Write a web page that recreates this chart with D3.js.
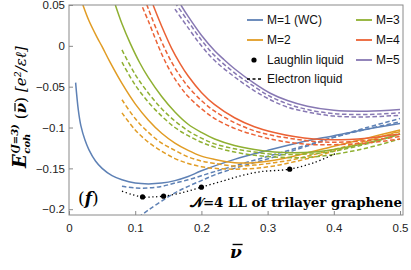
<!DOCTYPE html>
<html>
<head>
<meta charset="utf-8">
<script src="https://cdn.jsdelivr.net/npm/d3@7"></script>
<style>
  body { margin: 0; background: #fff; }
  svg { display: block; }
  .tick text { font-family: "Liberation Sans", Arial, sans-serif; font-size: 11.5px; fill: #222; }
</style>
</head>
<body>
<svg width="411" height="270"></svg>
<script>
// ---- data ----
// M=1 (Wigner crystal)
const nu1  = [0.010,0.014,0.018,0.024,0.030,0.040,0.050,0.065,0.080,0.10,0.12,0.14,0.16,0.18,0.20,0.25,0.30,0.35,0.40,0.45,0.50];
const e1   = [-0.045,-0.078,-0.098,-0.115,-0.127,-0.141,-0.150,-0.159,-0.164,-0.168,-0.169,-0.168,-0.165,-0.160,-0.153,-0.139,-0.128,-0.118,-0.110,-0.102,-0.095];
const nu1a = [0.08,0.10,0.12,0.14,0.16,0.18,0.20,0.22,0.25,0.28,0.31,0.34,0.37,0.40,0.45,0.50];
const e1a  = [-0.172,-0.174,-0.174,-0.172,-0.168,-0.164,-0.159,-0.154,-0.147,-0.140,-0.133,-0.126,-0.119,-0.112,-0.102,-0.093];
const nu1b = [0.105,0.12,0.14,0.16,0.18,0.20,0.22,0.25,0.28,0.31,0.34,0.37,0.40,0.45,0.50];
const e1b  = [-0.210,-0.201,-0.190,-0.180,-0.172,-0.165,-0.158,-0.150,-0.143,-0.136,-0.128,-0.120,-0.112,-0.100,-0.089];

// M=2
const nu2  = [0.021,0.03,0.042,0.05,0.062,0.08,0.10,0.12,0.14,0.16,0.18,0.20,0.22,0.25,0.28,0.31,0.35,0.40,0.45,0.50];
const e2   = [0.050,0.031,0.011,-0.001,-0.020,-0.046,-0.071,-0.091,-0.107,-0.119,-0.128,-0.135,-0.139,-0.143,-0.143,-0.140,-0.133,-0.123,-0.113,-0.103];
const nu2d = [0.08,0.10,0.12,0.14,0.16,0.18,0.20,0.22,0.25,0.28,0.31,0.34,0.37,0.40,0.45,0.50];
const e2a  = [-0.066,-0.089,-0.106,-0.119,-0.128,-0.136,-0.141,-0.144,-0.147,-0.146,-0.143,-0.139,-0.133,-0.127,-0.116,-0.105];
const e2b  = [-0.082,-0.103,-0.118,-0.129,-0.138,-0.144,-0.148,-0.150,-0.151,-0.150,-0.147,-0.142,-0.136,-0.129,-0.117,-0.104];

// M=3
const nu3  = [0.070,0.08,0.092,0.107,0.12,0.14,0.16,0.18,0.20,0.22,0.25,0.28,0.31,0.34,0.37,0.40,0.45,0.50];
const e3   = [0.050,0.027,0.004,-0.021,-0.039,-0.062,-0.081,-0.096,-0.106,-0.114,-0.122,-0.127,-0.130,-0.131,-0.130,-0.127,-0.119,-0.108];
const nu3d = [0.08,0.10,0.12,0.14,0.16,0.18,0.20,0.22,0.25,0.28,0.31,0.34,0.37,0.40,0.45,0.50];
const e3a  = [-0.005,-0.035,-0.058,-0.077,-0.092,-0.104,-0.113,-0.120,-0.126,-0.130,-0.133,-0.133,-0.132,-0.129,-0.120,-0.108];
const e3b  = [-0.020,-0.048,-0.069,-0.086,-0.100,-0.110,-0.118,-0.124,-0.130,-0.134,-0.136,-0.137,-0.136,-0.133,-0.125,-0.114];

// M=4
const nu4  = [0.127,0.14,0.155,0.168,0.18,0.20,0.22,0.25,0.28,0.31,0.34,0.37,0.40,0.45,0.50];
const e4   = [0.050,0.024,-0.003,-0.022,-0.037,-0.057,-0.072,-0.088,-0.099,-0.106,-0.111,-0.114,-0.115,-0.113,-0.108];
const nu4d = [0.107,0.12,0.14,0.155,0.168,0.18,0.20,0.22,0.25,0.28,0.31,0.34,0.37,0.40,0.45,0.50];
const e4a  = [0.075,0.045,0.005,-0.020,-0.037,-0.050,-0.067,-0.080,-0.094,-0.104,-0.110,-0.114,-0.117,-0.118,-0.116,-0.111];
const e4b  = [0.055,0.030,-0.010,-0.034,-0.050,-0.062,-0.077,-0.089,-0.101,-0.109,-0.115,-0.119,-0.121,-0.121,-0.119,-0.114];

// M=5
const nu5  = [0.169,0.18,0.20,0.22,0.233,0.25,0.28,0.304,0.33,0.36,0.40,0.45,0.50];
const e5   = [0.050,0.036,0.013,-0.006,-0.016,-0.028,-0.046,-0.058,-0.067,-0.074,-0.079,-0.080,-0.078];
const nu5d = [0.16,0.18,0.20,0.22,0.25,0.28,0.304,0.33,0.36,0.40,0.45,0.50];
const e5a  = [0.053,0.030,0.007,-0.012,-0.033,-0.050,-0.062,-0.071,-0.078,-0.083,-0.084,-0.082];
const e5b  = [0.045,0.022,0.000,-0.018,-0.038,-0.055,-0.066,-0.075,-0.081,-0.086,-0.087,-0.085];

// electron liquid (dotted) and Laughlin liquid points
const nuEL = [0.08,0.095,0.111,0.125,0.143,0.17,0.20,0.23,0.26,0.29,0.333,0.37,0.405];
const eEL  = [-0.178,-0.182,-0.185,-0.185,-0.184,-0.180,-0.173,-0.166,-0.159,-0.154,-0.151,-0.143,-0.131];
const nuLaughlin = [1/9, 1/7, 1/5, 1/3];
const eLaughlin  = [-0.185,-0.184,-0.173,-0.151];

const xTicks = [0, 0.1, 0.2, 0.3, 0.4, 0.5];
const yTicks = [0.05, 0, -0.05, -0.1, -0.15, -0.2];

const colors = ["#5E81B5","#E19C24","#8FB032","#EB6235","#8778B3"];
const legendLabels = ["M=1 (WC)","M=2","M=3","M=4","M=5"];

// ---- chart ----
const svg = d3.select("svg");
const pLeft = 69, pRight = 403, pTop = 5, pBottom = 215;

const x = d3.scaleLinear().domain([0, 0.5045]).range([pLeft, pRight]);
const y = d3.scaleLinear().domain([-0.2071, 0.05]).range([pBottom, pTop]);

svg.append("clipPath").attr("id","clip")
  .append("rect").attr("x",pLeft).attr("y",pTop).attr("width",pRight-pLeft).attr("height",pBottom-pTop);

const plot = svg.append("g").attr("clip-path","url(#clip)");

const line = d3.line()
  .x(d => x(d[0])).y(d => y(d[1]))
  .curve(d3.curveCatmullRom.alpha(0.5));

const zip = (a, b) => a.map((v, i) => [v, b[i]]);

const series = [
  {c:0, nu:nu1a, e:e1a, dash:true}, {c:0, nu:nu1b, e:e1b, dash:true}, {c:0, nu:nu1, e:e1},
  {c:1, nu:nu2d, e:e2a, dash:true}, {c:1, nu:nu2d, e:e2b, dash:true}, {c:1, nu:nu2, e:e2},
  {c:2, nu:nu3d, e:e3a, dash:true}, {c:2, nu:nu3d, e:e3b, dash:true}, {c:2, nu:nu3, e:e3},
  {c:3, nu:nu4d, e:e4a, dash:true}, {c:3, nu:nu4d, e:e4b, dash:true}, {c:3, nu:nu4, e:e4},
  {c:4, nu:nu5d, e:e5a, dash:true}, {c:4, nu:nu5d, e:e5b, dash:true}, {c:4, nu:nu5, e:e5}
];

series.forEach(s => {
  plot.append("path")
    .attr("d", line(zip(s.nu, s.e)))
    .attr("fill","none")
    .attr("stroke", colors[s.c])
    .attr("stroke-width", 1.5)
    .attr("stroke-dasharray", s.dash ? "4.5,2.5" : null);
});

plot.append("path")
  .attr("d", line(zip(nuEL, eEL)))
  .attr("fill","none").attr("stroke","#000")
  .attr("stroke-width",1.3).attr("stroke-dasharray","1.3,2.6");

plot.selectAll("circle.laughlin")
  .data(zip(nuLaughlin, eLaughlin))
  .join("circle").attr("class","laughlin")
  .attr("cx", d => x(d[0])).attr("cy", d => y(d[1])).attr("r", 2.6)
  .attr("fill","#000");

// frame
svg.append("rect").attr("x",pLeft).attr("y",pTop).attr("width",pRight-pLeft).attr("height",pBottom-pTop)
  .attr("fill","none").attr("stroke","#8a8a8a").attr("stroke-width",1);

const fmt = d => d === 0 ? "0" : d3.format("")(d).replace("-", "\u2212");

const xAxis = svg.append("g").attr("transform",`translate(0,${pBottom})`)
  .call(d3.axisBottom(x).tickValues(xTicks).tickSize(-4).tickPadding(9).tickFormat(fmt));
const yAxis = svg.append("g").attr("transform",`translate(${pLeft},0)`)
  .call(d3.axisLeft(y).tickValues(yTicks).tickSize(-4).tickPadding(4).tickFormat(fmt));
[xAxis, yAxis].forEach(a => {
  a.select(".domain").remove();
  a.selectAll(".tick line").attr("stroke","#8a8a8a");
});

// axis titles
const serif = '"DejaVu Serif", "Liberation Serif", serif';
const xt = svg.append("text").attr("x",236).attr("y",258).attr("text-anchor","middle")
  .style("font-family",serif).style("font-size","17px").style("font-style","italic").style("font-weight","bold")
  .text("\u03BD");
const xb = xt.node().getBBox();
svg.append("line").attr("x1",xb.x+2.5).attr("x2",xb.x+xb.width+0.5).attr("y1",xb.y+2.5).attr("y2",xb.y+2.5)
  .attr("stroke","#000").attr("stroke-width",1.4);

const yl = svg.append("g").attr("transform","translate(26,107) rotate(-90)");
const ylg = yl.append("g");
let cx = 0;
function piece(txt, size, opts) {
  return ylg.append("text").attr("x", cx).attr("y", opts.dy || 0)
    .style("font-family", serif).style("font-size", size + "px")
    .style("font-style", opts.italic ? "italic" : "normal")
    .style("font-weight", opts.bold ? "bold" : "normal")
    .text(txt);
}
const w = t => t.node().getComputedTextLength();
const tE = piece("E", 18, {italic:true, bold:true});
cx += w(tE) + 0.5;
const tSup = piece("(J=3)", 10, {italic:true, bold:true, dy:-8});
const tSub = piece("coh", 10, {italic:true, bold:true, dy:4});
cx += Math.max(w(tSup), w(tSub)) + 5;
const p1 = piece("(", 15, {}); cx += w(p1);
const tNu = piece("\u03BD", 15, {italic:true, bold:true});
ylg.append("line").attr("x1", cx + 2).attr("x2", cx + w(tNu)).attr("y1", -11).attr("y2", -11)
  .attr("stroke","#000").attr("stroke-width",1.2);
cx += w(tNu);
const p2 = piece(")", 15, {}); cx += w(p2) + 5;
const tUnit = piece("[e\u00B2/\u03B5\u2113]", 15, {italic:true});
cx += w(tUnit);
ylg.attr("transform", `translate(${-cx/2},0)`);

// annotations
const fl = svg.append("text").attr("x",78).attr("y",204)
  .style("font-family",serif).style("font-size","17px");
fl.append("tspan").text("(");
fl.append("tspan").style("font-style","italic").style("font-weight","bold").text("f");
fl.append("tspan").text(")");

svg.append("text").attr("x",190).attr("y",207)
  .attr("textLength",212).attr("lengthAdjust","spacingAndGlyphs")
  .style("font-family",serif).style("font-size","13.5px").style("font-weight","bold")
  .text("\uD835\uDCA9=4 LL of trilayer graphene");

// legend
const lg = svg.append("g").style("font-family",'"Liberation Sans", Arial, sans-serif').style("font-size","12px");
const rows = [
  {x:247, y:20, type:"line", c:colors[0], label:legendLabels[0]},
  {x:247, y:40, type:"line", c:colors[1], label:legendLabels[1]},
  {x:247, y:60, type:"dot", label:"Laughlin liquid"},
  {x:247, y:79, type:"dash", label:"Electron liquid"},
  {x:356, y:20, type:"line", c:colors[2], label:legendLabels[2]},
  {x:356, y:40, type:"line", c:colors[3], label:legendLabels[3]},
  {x:356, y:60, type:"line", c:colors[4], label:legendLabels[4]}
];
rows.forEach(r => {
  if (r.type === "line") {
    lg.append("line").attr("x1",r.x).attr("x2",r.x+16).attr("y1",r.y).attr("y2",r.y)
      .attr("stroke",r.c).attr("stroke-width",1.8);
  } else if (r.type === "dot") {
    lg.append("circle").attr("cx",r.x+7).attr("cy",r.y).attr("r",2.6).attr("fill","#000");
  } else {
    lg.append("line").attr("x1",r.x).attr("x2",r.x+16).attr("y1",r.y).attr("y2",r.y)
      .attr("stroke","#000").attr("stroke-width",1.3).attr("stroke-dasharray","3,2.5");
  }
  lg.append("text").attr("x",r.x+20).attr("y",r.y+4.3).attr("fill","#111").text(r.label);
});
</script>
</body>
</html>
